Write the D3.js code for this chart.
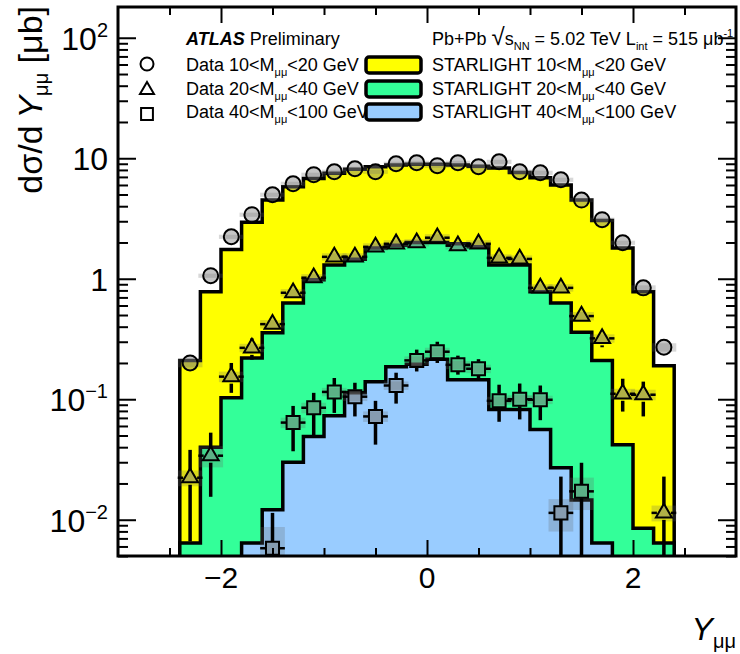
<!DOCTYPE html>
<html>
<head>
<meta charset="utf-8">
<script src="https://cdn.jsdelivr.net/npm/d3@7"></script>
<style>
  body { margin: 0; background: #fff; }
  text { font-family: "Liberation Sans", Arial, Helvetica, sans-serif; fill: #000; }
</style>
</head>
<body>
<svg id="chart" width="740" height="654"></svg>
<script>
// bin centres in Y_mumu, bin width 0.2
const rapidity = [-2.3, -2.1, -1.9, -1.7, -1.5, -1.3, -1.1, -0.9, -0.7, -0.5, -0.3, -0.1,
                   0.1, 0.3, 0.5, 0.7, 0.9, 1.1, 1.3, 1.5, 1.7, 1.9, 2.1, 2.3];
const binWidth = 0.2;

// STARLIGHT predictions (ub)
const starlight10to20 = [0.21, 0.78, 1.75, 2.95, 4.5, 5.8, 6.8, 7.5, 8.1, 8.5, 8.8, 8.9,
                         8.9, 8.8, 8.6, 8.3, 7.6, 6.9, 6.0, 4.5, 3.05, 1.8, 0.78, 0.19];
const starlight20to40 = [0.0064, 0.040, 0.103, 0.22, 0.356, 0.63, 0.98, 1.3, 1.45, 1.8, 1.9, 2.0,
                         2.0, 1.95, 1.84, 1.3, 1.3, 0.78, 0.63, 0.36, 0.21, 0.042, 0.0085, 0.0064];
const starlight40to100 = [0, 0, 0, 0.0064, 0.0121, 0.030, 0.049, 0.073, 0.113, 0.14, 0.186, 0.195,
                          0.215, 0.145, 0.145, 0.082, 0.082, 0.056, 0.027, 0.0146, 0.0064, 0, 0, 0];

// data, 10 < M < 20 GeV
const data10to20 = [0.20, 1.06, 2.23, 3.40, 4.98, 6.14, 7.30, 7.73, 8.18, 7.73, 9.0, 9.18,
                    8.67, 9.18, 8.5, 9.35, 7.73, 7.58, 6.63, 4.5, 3.09, 1.99, 0.84, 0.27];
const syst10to20 = [0.08, 0.04, 0.04, 0.04, 0.04, 0.04, 0.04, 0.04, 0.04, 0.04, 0.04, 0.04,
                    0.04, 0.04, 0.04, 0.04, 0.04, 0.04, 0.04, 0.04, 0.04, 0.04, 0.05, 0.08];

// data, 20 < M < 40 GeV
const data20to40 = [0.0223, 0.034, 0.154, 0.267, 0.42, 0.765, 1.02, 1.52, 1.52, 1.84, 1.95, 1.99,
                    2.19, 1.88, 1.95, 1.49, 1.46, 0.84, 0.84, 0.49, 0.32, 0.111, 0.109, 0.0114];
const err20to40Lo = [0.0066, 0.0155, 0.113, 0.213, 0.37, 0.70, 0.95, 1.42, 1.42, 1.74, 1.85, 1.89,
                     2.09, 1.78, 1.85, 1.39, 1.36, 0.77, 0.77, 0.43, 0.27, 0.079, 0.072, 0.005];
const err20to40Hi = [0.038, 0.0528, 0.20, 0.32, 0.47, 0.83, 1.09, 1.62, 1.62, 1.94, 2.05, 2.09,
                     2.29, 1.98, 2.05, 1.59, 1.56, 0.91, 0.91, 0.55, 0.37, 0.148, 0.14, 0.0228];
const syst20to40 = [0.15, 0.2, 0.1, 0.08, 0.08, 0.07, 0.07, 0.07, 0.07, 0.07, 0.07, 0.07,
                    0.07, 0.07, 0.07, 0.07, 0.07, 0.07, 0.07, 0.08, 0.08, 0.1, 0.1, 0.15];

// data, 40 < M < 100 GeV
const rapidity40to100 = [-1.5, -1.3, -1.1, -0.9, -0.7, -0.5, -0.3, -0.1,
                          0.1, 0.3, 0.5, 0.7, 0.9, 1.1, 1.3, 1.5];
const data40to100 = [0.0058, 0.064, 0.085, 0.115, 0.105, 0.072, 0.13, 0.21,
                     0.248, 0.193, 0.179, 0.097, 0.10, 0.099, 0.0114, 0.0172];
const err40to100Lo = [0.004, 0.037, 0.05, 0.077, 0.072, 0.042, 0.092, 0.17,
                      0.2, 0.16, 0.145, 0.065, 0.068, 0.067, 0.004, 0.004];
const err40to100Hi = [0.0114, 0.088, 0.113, 0.15, 0.137, 0.097, 0.166, 0.258,
                      0.30, 0.23, 0.215, 0.132, 0.135, 0.13, 0.0228, 0.0297];
const syst40to100 = [0.5, 0.1, 0.1, 0.08, 0.08, 0.1, 0.08, 0.08,
                     0.08, 0.08, 0.08, 0.08, 0.08, 0.08, 0.3, 0.3];

const xMajorTicks = [-2, 0, 2];
const xMajorLabels = ["\u22122", "0", "2"];
const yMajorTicks = [0.01, 0.1, 1, 10, 100];

const fillYellow = "#ffff00", fillGreen = "#33ff99", fillBlue = "#99ccff";

const svg = d3.select("#chart");
const x = d3.scaleLinear().domain([-3, 3]).range([118, 736]);
const y = d3.scaleLog().domain([0.005, 180]).range([556, 7]);
const yBottom = y.range()[0];
const yv = v => (v > 0 ? Math.min(y(v), yBottom + 5) : yBottom + 5);

svg.append("defs").append("clipPath").attr("id", "plotclip")
  .append("rect")
  .attr("x", x(-3)).attr("y", y(180))
  .attr("width", x(3) - x(-3)).attr("height", yBottom - y(180));

const plot = svg.append("g").attr("clip-path", "url(#plotclip)");

// step histogram outline
function stepPoints(vals) {
  const pts = [[x(rapidity[0] - binWidth / 2), yBottom + 5]];
  vals.forEach((v, i) => {
    pts.push([x(rapidity[i] - binWidth / 2), yv(v)]);
    pts.push([x(rapidity[i] + binWidth / 2), yv(v)]);
  });
  pts.push([x(rapidity[rapidity.length - 1] + binWidth / 2), yBottom + 5]);
  return pts;
}
const line = d3.line();
[[starlight10to20, fillYellow], [starlight20to40, fillGreen], [starlight40to100, fillBlue]]
  .forEach(([vals, col]) => {
    plot.append("path").attr("d", line(stepPoints(vals)) + "Z")
      .attr("fill", col).attr("stroke", "#000").attr("stroke-width", 3.5)
      .attr("stroke-linejoin", "miter");
  });

// systematic boxes
function systBoxes(xs, vals, rel) {
  plot.append("g").selectAll("rect").data(vals).join("rect")
    .attr("x", (d, i) => x(xs[i] - 0.12))
    .attr("width", x(0.12) - x(-0.12))
    .attr("y", (d, i) => yv(d * (1 + rel[i])))
    .attr("height", (d, i) => yv(d * (1 - rel[i])) - yv(d * (1 + rel[i])))
    .attr("fill", "rgba(100,100,100,0.25)");
}
systBoxes(rapidity, data10to20, syst10to20);
systBoxes(rapidity, data20to40, syst20to40);
systBoxes(rapidity40to100, data40to100, syst40to100);

// statistical error bars, left open inside the marker
function errorBars(xs, vals, lo, hi, gap) {
  const segs = [];
  vals.forEach((v, i) => {
    const cx = x(xs[i]), cy = yv(v);
    if (yv(hi[i]) < cy - gap) segs.push({x1: cx, x2: cx, y1: yv(hi[i]), y2: cy - gap, w: 3.5});
    if (yv(lo[i]) > cy + gap) segs.push({x1: cx, x2: cx, y1: cy + gap, y2: yv(lo[i]), w: 3.5});
    segs.push({x1: x(xs[i] - 0.12), x2: cx - gap, y1: cy, y2: cy, w: 2.5});
    segs.push({x1: cx + gap, x2: x(xs[i] + 0.12), y1: cy, y2: cy, w: 2.5});
  });
  plot.append("g").selectAll("line").data(segs).join("line")
    .attr("x1", d => d.x1).attr("x2", d => d.x2).attr("y1", d => d.y1).attr("y2", d => d.y2)
    .attr("stroke", "#000").attr("stroke-width", d => d.w);
}
errorBars(rapidity, data20to40, err20to40Lo, err20to40Hi, 7);
errorBars(rapidity40to100, data40to100, err40to100Lo, err40to100Hi, 7);

const markerFill = "rgba(128,128,128,0.45)";
plot.append("g").selectAll("circle").data(data10to20).join("circle")
  .attr("cx", (d, i) => x(rapidity[i])).attr("cy", d => yv(d)).attr("r", 7.5)
  .attr("fill", markerFill).attr("stroke", "#000").attr("stroke-width", 2);
const tri = d3.symbol(d3.symbolTriangle, 110)();
plot.append("g").selectAll("path").data(data20to40).join("path")
  .attr("d", tri)
  .attr("transform", (d, i) => `translate(${x(rapidity[i])},${yv(d)})`)
  .attr("fill", markerFill).attr("stroke", "#000").attr("stroke-width", 2);
const sq = d3.symbol(d3.symbolSquare, 170)();
plot.append("g").selectAll("path").data(data40to100).join("path")
  .attr("d", sq)
  .attr("transform", (d, i) => `translate(${x(rapidity40to100[i])},${yv(d)})`)
  .attr("fill", markerFill).attr("stroke", "#000").attr("stroke-width", 2);

// axes with inner ticks on all four sides
const yMinorTicks = [];
[0.001, 0.01, 0.1, 1, 10].forEach(dec => {
  for (let k = 2; k <= 9; k++) {
    const v = dec * k;
    if (v >= 0.005 && v <= 180) yMinorTicks.push(v);
  }
});
const xMinorTicks = [-2.5, -1.5, -1, -0.5, 0.5, 1, 1.5, 2.5];

function styleAxis(g) {
  g.select(".domain").remove();
  g.selectAll(".tick line").attr("stroke", "#000").attr("stroke-width", 2);
  g.selectAll(".tick text").remove();
}
const axes = svg.append("g");
axes.append("g").attr("transform", `translate(${x(-3)},0)`)
  .call(d3.axisLeft(y).tickValues(yMajorTicks).tickSize(-18)).call(styleAxis);
axes.append("g").attr("transform", `translate(${x(-3)},0)`)
  .call(d3.axisLeft(y).tickValues(yMinorTicks).tickSize(-10)).call(styleAxis);
axes.append("g").attr("transform", `translate(${x(3)},0)`)
  .call(d3.axisRight(y).tickValues(yMajorTicks).tickSize(-18)).call(styleAxis);
axes.append("g").attr("transform", `translate(${x(3)},0)`)
  .call(d3.axisRight(y).tickValues(yMinorTicks).tickSize(-10)).call(styleAxis);
axes.append("g").attr("transform", `translate(0,${yBottom})`)
  .call(d3.axisBottom(x).tickValues(xMajorTicks).tickSize(-16)).call(styleAxis);
axes.append("g").attr("transform", `translate(0,${yBottom})`)
  .call(d3.axisBottom(x).tickValues(xMinorTicks).tickSize(-8)).call(styleAxis);
axes.append("g").attr("transform", `translate(0,${y(180)})`)
  .call(d3.axisTop(x).tickValues(xMajorTicks).tickSize(-16)).call(styleAxis);
axes.append("g").attr("transform", `translate(0,${y(180)})`)
  .call(d3.axisTop(x).tickValues(xMinorTicks).tickSize(-8)).call(styleAxis);

axes.append("rect")
  .attr("x", x(-3)).attr("y", y(180))
  .attr("width", x(3) - x(-3)).attr("height", yBottom - y(180))
  .attr("fill", "none").attr("stroke", "#000").attr("stroke-width", 3);

// tick labels
const yLabelParts = [["10", "2"], ["10", ""], ["1", ""], ["10", "\u22121"], ["10", "\u22122"]];
const yLab = svg.append("g").selectAll("text").data([100, 10, 1, 0.1, 0.01]).join("text")
  .attr("x", 108).attr("y", d => y(d) + 12)
  .attr("text-anchor", "end").style("font-size", "32px");
yLab.each(function (d, i) {
  const t = d3.select(this);
  t.append("tspan").text(yLabelParts[i][0]);
  if (yLabelParts[i][1]) {
    t.append("tspan").attr("dy", -13).style("font-size", "20px").text(yLabelParts[i][1]);
  }
});
svg.append("g").selectAll("text").data(xMajorTicks).join("text")
  .attr("x", d => x(d)).attr("y", 588)
  .attr("text-anchor", "middle").style("font-size", "30px")
  .text((d, i) => xMajorLabels[i]);

// axis titles
const xt = svg.append("text").attr("x", 736).attr("y", 640)
  .attr("text-anchor", "end").style("font-size", "32px");
xt.append("tspan").style("font-style", "italic").text("Y");
xt.append("tspan").attr("dy", 8).style("font-size", "20px").text("\u03bc\u03bc");

const yt = svg.append("text").attr("transform", "translate(42,6) rotate(-90)")
  .attr("text-anchor", "end").style("font-size", "34px");
yt.append("tspan").text("d\u03c3/d\u2009");
yt.append("tspan").style("font-style", "italic").text("Y");
yt.append("tspan").attr("dy", 6).style("font-size", "20px").text("\u03bc\u03bc");
yt.append("tspan").attr("dy", -6).text(" [\u03bcb]");

// legend
const lg = svg.append("g").style("font-size", "18px");
const hdr = lg.append("text").attr("x", 186).attr("y", 45);
hdr.append("tspan").style("font-weight", "bold").style("font-style", "italic").text("ATLAS");
hdr.append("tspan").text(" Preliminary");

const dataLabels = [["10", "20"], ["20", "40"], ["40", "100"]];
const rowY = [71, 95, 118];
function massLabel(t, prefix, r) {
  t.append("tspan").text(`${prefix}${r[0]}<M`);
  t.append("tspan").attr("dy", 5).style("font-size", "11px").text("\u03bc\u03bc");
  t.append("tspan").attr("dy", -5).text(`<${r[1]} GeV`);
}
dataLabels.forEach((r, i) => {
  massLabel(lg.append("text").attr("x", 186).attr("y", rowY[i]), "Data ", r);
  massLabel(lg.append("text").attr("x", 432).attr("y", rowY[i]), "STARLIGHT ", r);
});
lg.append("circle").attr("cx", 147).attr("cy", 64).attr("r", 6.5)
  .attr("fill", "#fff").attr("stroke", "#000").attr("stroke-width", 2);
lg.append("path").attr("d", d3.symbol(d3.symbolTriangle, 85)())
  .attr("transform", "translate(147,90)")
  .attr("fill", "#fff").attr("stroke", "#000").attr("stroke-width", 2);
lg.append("path").attr("d", d3.symbol(d3.symbolSquare, 140)())
  .attr("transform", "translate(147,114)")
  .attr("fill", "#fff").attr("stroke", "#000").attr("stroke-width", 2);
[fillYellow, fillGreen, fillBlue].forEach((c, i) => {
  lg.append("rect").attr("x", 366).attr("y", rowY[i] - 14).attr("width", 55).attr("height", 16)
    .attr("rx", 3).attr("fill", c).attr("stroke", "#000").attr("stroke-width", 3.5);
});
const pb = lg.append("text").attr("x", 432).attr("y", 45);
pb.append("tspan").text("Pb+Pb ");
pb.append("tspan").style("font-size", "24px").text("\u221a");
pb.append("tspan").text("s");
pb.append("tspan").attr("dy", 5).style("font-size", "11px").text("NN");
pb.append("tspan").attr("dy", -5).text(" = 5.02 TeV L");
pb.append("tspan").attr("dy", 5).style("font-size", "11px").text("int");
pb.append("tspan").attr("dy", -5).text(" = 515 \u03bcb");
pb.append("tspan").attr("dy", -8).style("font-size", "11px").text("-1");
</script>
</body>
</html>
